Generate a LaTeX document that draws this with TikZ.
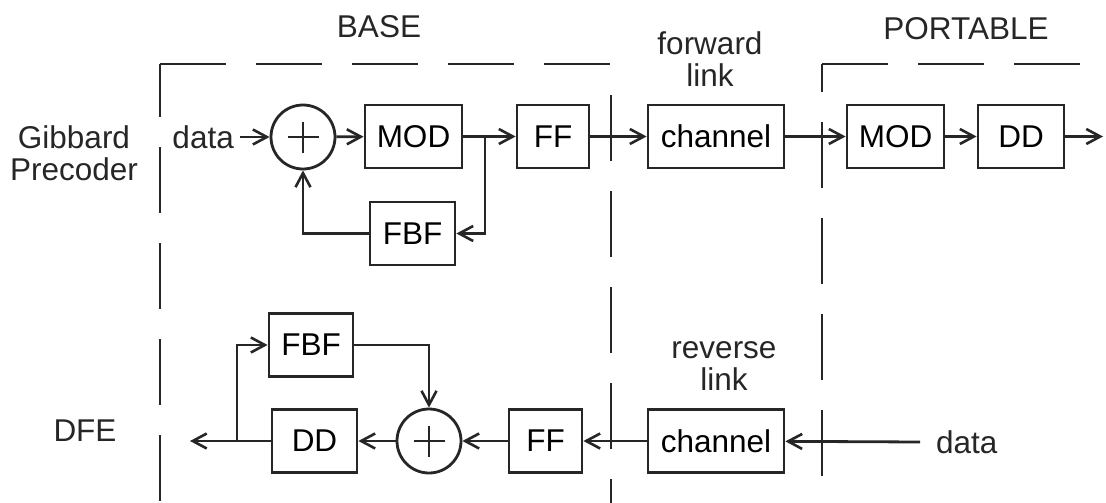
\documentclass[tikz,border=0pt]{standalone}
\usepackage{fontspec}
\setmainfont{Liberation Sans}
\usepackage{tikz}
\usetikzlibrary{arrows.meta, positioning, calc}
\tikzset{
  blk/.style    = {rectangle, draw=black!85, line width=2.8pt, minimum height=63pt,
                   inner sep=0pt, font=\fontsize{31.5}{32}\selectfont},
  summer/.style = {circle, draw=black!85, line width=2.8pt, minimum size=64pt, inner sep=0pt,
                   path picture={\draw[line width=2.4pt, black!85]
                     ($(path picture bounding box.center)+(-15.5,0)$) -- ++(31,0)
                     ($(path picture bounding box.center)+(0,-15.5)$) -- ++(0,31);}},
  lbl/.style    = {inner sep=0pt, align=center, text=black!85, font=\fontsize{31.5}{32}\selectfont},
  arr/.style    = {-{Straight Barb[length=14pt, width=15pt, line width=2.6pt]},
                   line width=2.8pt, draw=black!85},
  bnd/.style    = {line width=2.8pt, draw=black!85, dash pattern=on 66pt off 30pt}
}
\begin{document}
\begin{tikzpicture}[x=1pt, y=-1pt]
  \useasboundingbox (0,0) rectangle (1106,503);

  % base / portable boundaries
  \draw[bnd] (160,64) -- (612,64);
  \draw[bnd, dash phase=13pt] (160,64) -- (160,503);
  \draw[bnd] (611,95) -- (611,503);
  \draw[bnd] (822,64) -- (1080,64);
  \draw[bnd, dash phase=38pt] (822,64) -- (822,476);

  % labels
  \node[lbl, anchor=base] (base)  at (379,38) {BASE};
  \node[lbl, anchor=base] (port)  at (966,40) {PORTABLE};
  \node[lbl, anchor=base] (fwd)   at (710,86) {forward\\link};
  \node[lbl, anchor=base] (rev)   at (724,390) {reverse\\link};
  \node[lbl, anchor=base] (gib)   at (74,180) {Gibbard\\Precoder};
  \node[lbl] (dfe)   at (85,431) {DFE};

  % forward link: Gibbard precoder
  \node[lbl, anchor=east] (din1) at (234,137) {data};
  \node[summer] (sum1) at (303,137) {};
  \node[blk, minimum width=97pt] (mod1) at (413.5,136.5) {MOD};
  \node[blk, minimum width=85pt] (fbf1) at (412.5,233.5) {FBF};
  \node[blk, minimum width=72pt] (ff1)  at (553,136.5) {FF};
  \node[blk, minimum width=136pt] (ch1) at (716,136.5) {channel};
  \node[blk, minimum width=97pt] (mod2) at (895.5,136.5) {MOD};
  \node[blk, minimum width=86pt] (dd1)  at (1021,136.5) {DD};
  \coordinate (br1)  at (485,136.5);
  \coordinate (out1) at (1103,136.5);

  \draw[arr] ([xshift=6pt]din1.east) -- (sum1);
  \draw[arr] (sum1) -- (mod1);
  \draw[arr] (mod1) -- (ff1);
  \draw[arr] (br1) |- (fbf1);
  \draw[arr] (fbf1.west) -| (sum1.south);
  \draw[arr] (ff1) -- (ch1);
  \draw[arr] (ch1) -- (mod2);
  \draw[arr] (mod2) -- (dd1);
  \draw[arr] (dd1) -- (out1);

  % reverse link: DFE
  \node[lbl, anchor=west] (din2) at (936,442) {data};
  \node[blk, minimum width=136pt] (ch2) at (716,441) {channel};
  \node[blk, minimum width=73pt] (ff2)  at (545.5,441) {FF};
  \node[summer] (sum2) at (429,441) {};
  \node[blk, minimum width=85pt] (dd2)  at (314.5,441) {DD};
  \node[blk, minimum width=84pt] (fbf2) at (311,345) {FBF};
  \coordinate (br2)  at (237,441);
  \coordinate (out2) at (190,441);

  \draw[arr] ([xshift=-16pt]din2.west) -- (ch2);
  \draw[arr] (ch2) -- (ff2);
  \draw[arr] (ff2) -- (sum2);
  \draw[arr] (sum2) -- (dd2);
  \draw[arr] (dd2) -- (out2);
  \draw[arr] (br2) |- (fbf2);
  \draw[arr] (fbf2.east) -| (sum2.north);
\end{tikzpicture}
\end{document}
